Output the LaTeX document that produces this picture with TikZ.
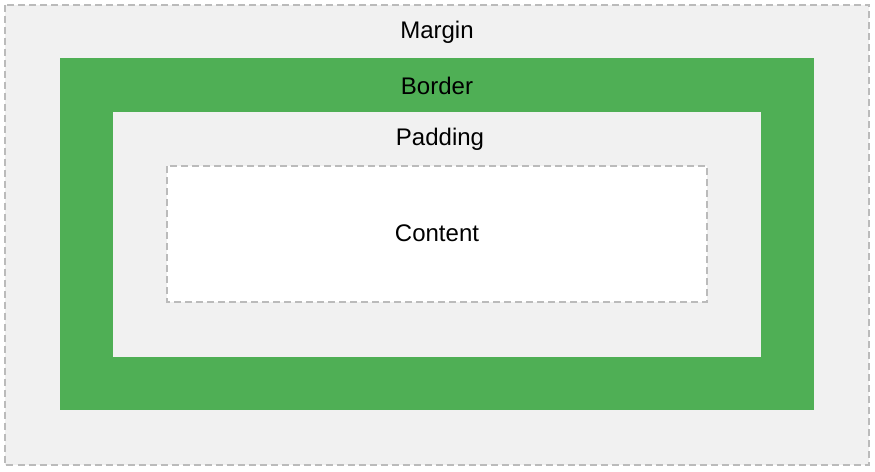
\documentclass[tikz,border=0pt]{standalone}
\usepackage{fontspec}
\setmainfont{Liberation Sans}
\definecolor{bggray}{HTML}{F1F1F1}
\definecolor{boxgreen}{HTML}{4FAF55}
\definecolor{dashgray}{HTML}{BBBBBB}
\begin{document}
\begin{tikzpicture}[x=1pt,y=-1pt,
  dashbox/.style={draw=dashgray,line width=2pt,dash pattern=on 7pt off 4pt},
  lbl/.style={font=\fontsize{24}{28}\selectfont,text=black,inner sep=0pt}]
\useasboundingbox (0,0) rectangle (875,471);
\fill[white] (0,0) rectangle (875,471);
\filldraw[fill=bggray,dashbox] (4.5,4.5) rectangle (869,464.5);
\fill[boxgreen] (60,58) rectangle (814,410);
\fill[bggray] (113,112) rectangle (761,357);
\filldraw[fill=white,dashbox] (167,166) rectangle (707,302);
\node[lbl] (margin) at (437,32.5) {Margin};
\node[lbl] (border) at (437,85.5) {Border};
\node[lbl] (padding) at (440,139.5) {Padding};
\node[lbl] (content) at (437,233.5) {Content};
\end{tikzpicture}
\end{document}
